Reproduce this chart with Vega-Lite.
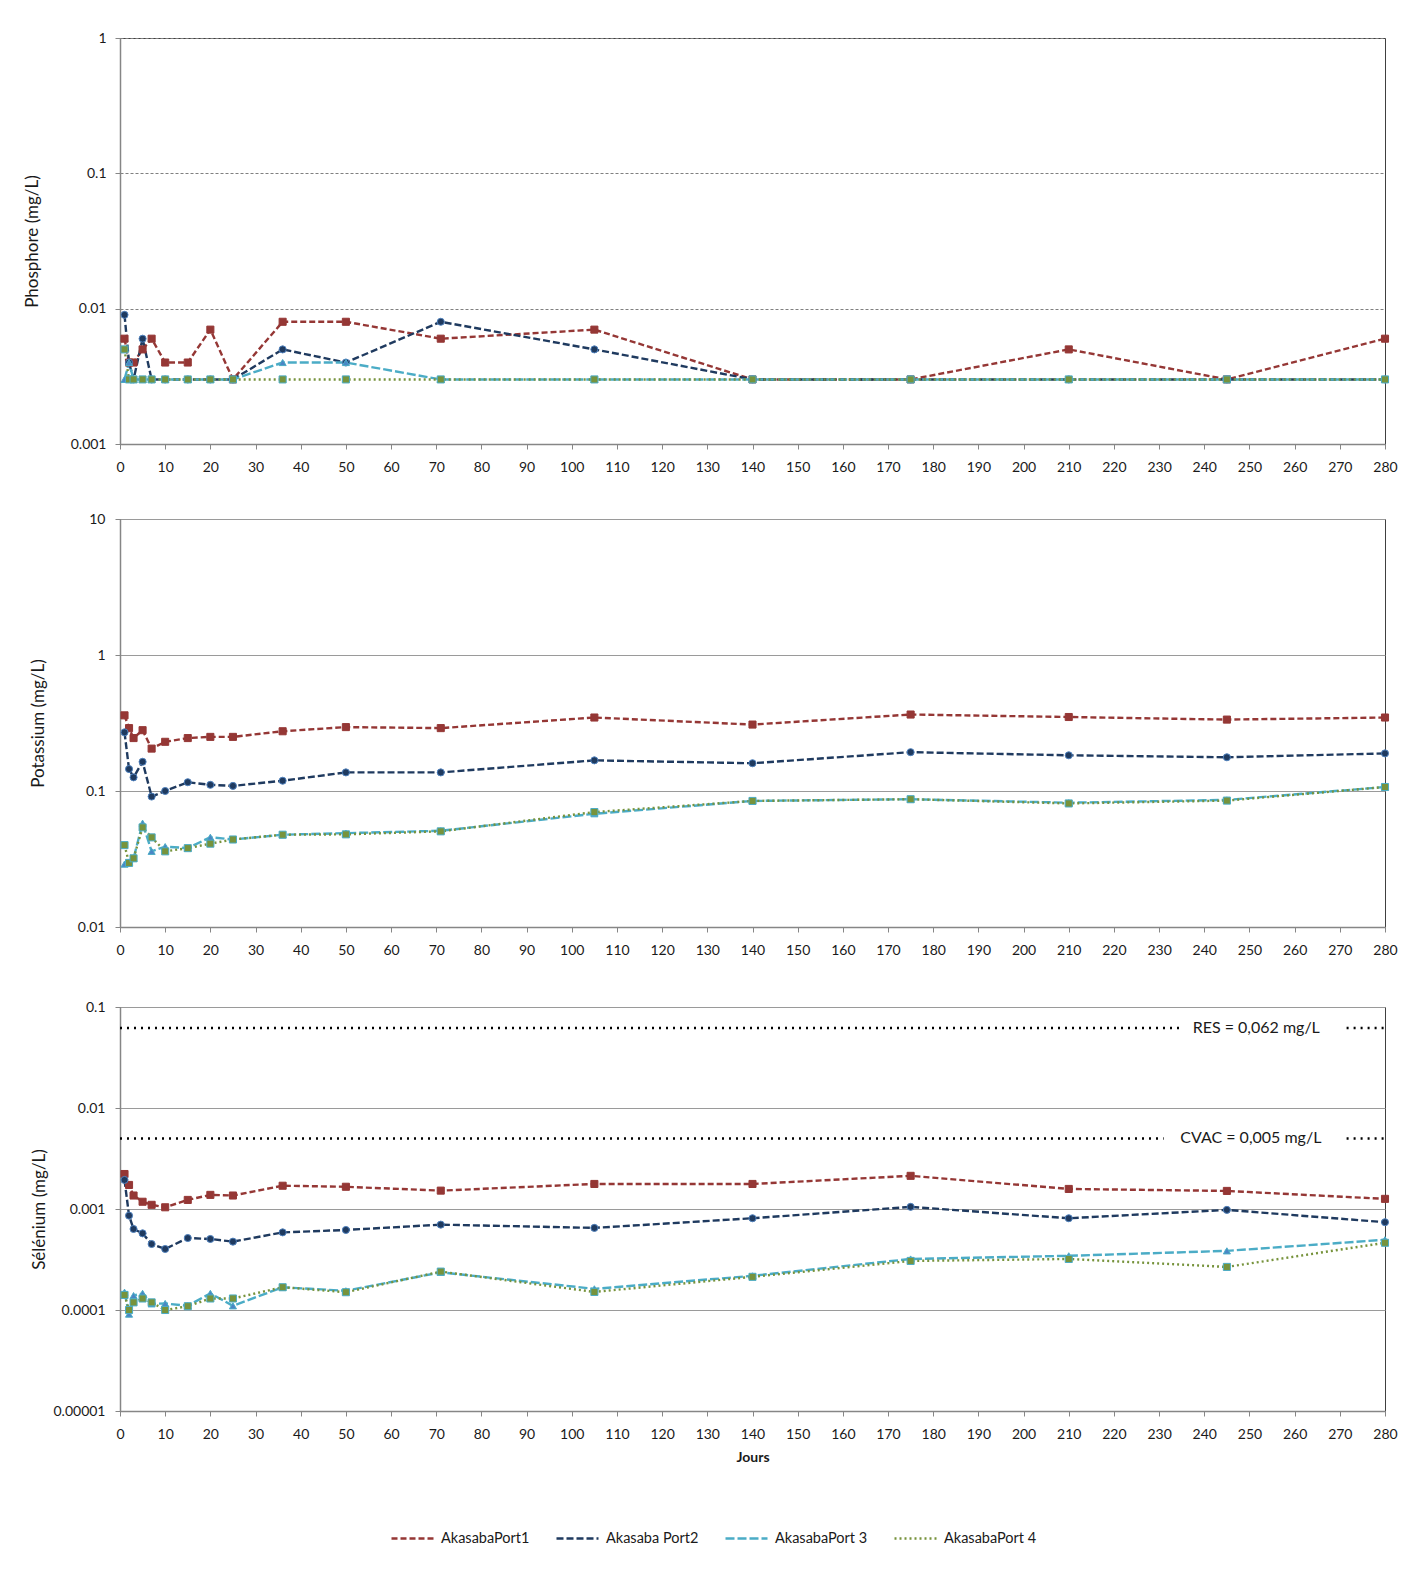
{
  "$schema": "https://vega.github.io/schema/vega-lite/v6.json",
  "background": "white",
  "padding": {"left": 22, "top": 30, "right": 10, "bottom": 10},
  "bounds": "flush",
  "spacing": 75,
  "config": {
    "font": "Lato",
    "view": {"stroke": "#404040", "strokeWidth": 1},
    "axis": {
      "labelFont": "Lato", "labelFontSize": 14, "labelColor": "#1a1a1a",
      "titleFont": "Lato", "titleColor": "#1a1a1a",
      "domainColor": "#868686", "domainWidth": 1.5, "tickColor": "#868686", "tickSize": 5, "tickWidth": 1
    },
    "legend": {"labelFont": "Lato", "labelFontSize": 14.5, "labelColor": "#1a1a1a"},
    "point": {"filled": true, "size": 50, "strokeWidth": 1, "opacity": 1}
  },
  "datasets": {
    "phos": [
      {"j": 1, "AkasabaPort1": 0.006, "Akasaba Port2": 0.009, "AkasabaPort 3": 0.003, "AkasabaPort 4": 0.005},
      {"j": 2, "AkasabaPort1": 0.004, "Akasaba Port2": 0.004, "AkasabaPort 3": 0.004, "AkasabaPort 4": 0.003},
      {"j": 3, "AkasabaPort1": 0.004, "Akasaba Port2": 0.003, "AkasabaPort 3": 0.003, "AkasabaPort 4": 0.003},
      {"j": 5, "AkasabaPort1": 0.005, "Akasaba Port2": 0.006, "AkasabaPort 3": 0.003, "AkasabaPort 4": 0.003},
      {"j": 7, "AkasabaPort1": 0.006, "Akasaba Port2": 0.003, "AkasabaPort 3": 0.003, "AkasabaPort 4": 0.003},
      {"j": 10, "AkasabaPort1": 0.004, "Akasaba Port2": 0.003, "AkasabaPort 3": 0.003, "AkasabaPort 4": 0.003},
      {"j": 15, "AkasabaPort1": 0.004, "Akasaba Port2": 0.003, "AkasabaPort 3": 0.003, "AkasabaPort 4": 0.003},
      {"j": 20, "AkasabaPort1": 0.007, "Akasaba Port2": 0.003, "AkasabaPort 3": 0.003, "AkasabaPort 4": 0.003},
      {"j": 25, "AkasabaPort1": 0.003, "Akasaba Port2": 0.003, "AkasabaPort 3": 0.003, "AkasabaPort 4": 0.003},
      {"j": 36, "AkasabaPort1": 0.008, "Akasaba Port2": 0.005, "AkasabaPort 3": 0.004, "AkasabaPort 4": 0.003},
      {"j": 50, "AkasabaPort1": 0.008, "Akasaba Port2": 0.004, "AkasabaPort 3": 0.004, "AkasabaPort 4": 0.003},
      {"j": 71, "AkasabaPort1": 0.006, "Akasaba Port2": 0.008, "AkasabaPort 3": 0.003, "AkasabaPort 4": 0.003},
      {"j": 105, "AkasabaPort1": 0.007, "Akasaba Port2": 0.005, "AkasabaPort 3": 0.003, "AkasabaPort 4": 0.003},
      {"j": 140, "AkasabaPort1": 0.003, "Akasaba Port2": 0.003, "AkasabaPort 3": 0.003, "AkasabaPort 4": 0.003},
      {"j": 175, "AkasabaPort1": 0.003, "Akasaba Port2": 0.003, "AkasabaPort 3": 0.003, "AkasabaPort 4": 0.003},
      {"j": 210, "AkasabaPort1": 0.005, "Akasaba Port2": 0.003, "AkasabaPort 3": 0.003, "AkasabaPort 4": 0.003},
      {"j": 245, "AkasabaPort1": 0.003, "Akasaba Port2": 0.003, "AkasabaPort 3": 0.003, "AkasabaPort 4": 0.003},
      {"j": 280, "AkasabaPort1": 0.006, "Akasaba Port2": 0.003, "AkasabaPort 3": 0.003, "AkasabaPort 4": 0.003}
    ],
    "pot": [
      {"j": 1, "AkasabaPort1": 0.36, "Akasaba Port2": 0.27, "AkasabaPort 3": 0.029, "AkasabaPort 4": 0.040},
      {"j": 2, "AkasabaPort1": 0.29, "Akasaba Port2": 0.145, "AkasabaPort 3": 0.030, "AkasabaPort 4": 0.0296},
      {"j": 3, "AkasabaPort1": 0.245, "Akasaba Port2": 0.126, "AkasabaPort 3": 0.032, "AkasabaPort 4": 0.032},
      {"j": 5, "AkasabaPort1": 0.28, "Akasaba Port2": 0.164, "AkasabaPort 3": 0.058, "AkasabaPort 4": 0.054},
      {"j": 7, "AkasabaPort1": 0.205, "Akasaba Port2": 0.091, "AkasabaPort 3": 0.036, "AkasabaPort 4": 0.0456},
      {"j": 10, "AkasabaPort1": 0.23, "Akasaba Port2": 0.100, "AkasabaPort 3": 0.039, "AkasabaPort 4": 0.036},
      {"j": 15, "AkasabaPort1": 0.245, "Akasaba Port2": 0.116, "AkasabaPort 3": 0.038, "AkasabaPort 4": 0.038},
      {"j": 20, "AkasabaPort1": 0.25, "Akasaba Port2": 0.111, "AkasabaPort 3": 0.0457, "AkasabaPort 4": 0.041},
      {"j": 25, "AkasabaPort1": 0.25, "Akasaba Port2": 0.109, "AkasabaPort 3": 0.044, "AkasabaPort 4": 0.044},
      {"j": 36, "AkasabaPort1": 0.275, "Akasaba Port2": 0.119, "AkasabaPort 3": 0.0477, "AkasabaPort 4": 0.0477},
      {"j": 50, "AkasabaPort1": 0.295, "Akasaba Port2": 0.137, "AkasabaPort 3": 0.049, "AkasabaPort 4": 0.048},
      {"j": 71, "AkasabaPort1": 0.29, "Akasaba Port2": 0.137, "AkasabaPort 3": 0.051, "AkasabaPort 4": 0.0505},
      {"j": 105, "AkasabaPort1": 0.347, "Akasaba Port2": 0.168, "AkasabaPort 3": 0.068, "AkasabaPort 4": 0.070},
      {"j": 140, "AkasabaPort1": 0.308, "Akasaba Port2": 0.160, "AkasabaPort 3": 0.0845, "AkasabaPort 4": 0.0845},
      {"j": 175, "AkasabaPort1": 0.365, "Akasaba Port2": 0.193, "AkasabaPort 3": 0.087, "AkasabaPort 4": 0.087},
      {"j": 210, "AkasabaPort1": 0.35, "Akasaba Port2": 0.183, "AkasabaPort 3": 0.082, "AkasabaPort 4": 0.081},
      {"j": 245, "AkasabaPort1": 0.335, "Akasaba Port2": 0.177, "AkasabaPort 3": 0.086, "AkasabaPort 4": 0.085},
      {"j": 280, "AkasabaPort1": 0.347, "Akasaba Port2": 0.189, "AkasabaPort 3": 0.107, "AkasabaPort 4": 0.107}
    ],
    "sel": [
      {"j": 1, "AkasabaPort1": 0.00222, "Akasaba Port2": 0.00194, "AkasabaPort 3": 0.00015, "AkasabaPort 4": 0.000141},
      {"j": 2, "AkasabaPort1": 0.00173, "Akasaba Port2": 0.00086, "AkasabaPort 3": 0.000091, "AkasabaPort 4": 0.0001},
      {"j": 3, "AkasabaPort1": 0.00136, "Akasaba Port2": 0.000634, "AkasabaPort 3": 0.000139, "AkasabaPort 4": 0.000119},
      {"j": 5, "AkasabaPort1": 0.00118, "Akasaba Port2": 0.000574, "AkasabaPort 3": 0.000146, "AkasabaPort 4": 0.00013},
      {"j": 7, "AkasabaPort1": 0.0011, "Akasaba Port2": 0.00045, "AkasabaPort 3": 0.000115, "AkasabaPort 4": 0.000119},
      {"j": 10, "AkasabaPort1": 0.00104, "Akasaba Port2": 0.000402, "AkasabaPort 3": 0.000116, "AkasabaPort 4": 0.0001},
      {"j": 15, "AkasabaPort1": 0.00123, "Akasaba Port2": 0.000516, "AkasabaPort 3": 0.00011, "AkasabaPort 4": 0.000109},
      {"j": 20, "AkasabaPort1": 0.00138, "Akasaba Port2": 0.000505, "AkasabaPort 3": 0.000146, "AkasabaPort 4": 0.00013},
      {"j": 25, "AkasabaPort1": 0.00136, "Akasaba Port2": 0.000475, "AkasabaPort 3": 0.00011, "AkasabaPort 4": 0.00013},
      {"j": 36, "AkasabaPort1": 0.0017, "Akasaba Port2": 0.000587, "AkasabaPort 3": 0.000168, "AkasabaPort 4": 0.000168},
      {"j": 50, "AkasabaPort1": 0.00166, "Akasaba Port2": 0.00062, "AkasabaPort 3": 0.000155, "AkasabaPort 4": 0.00015},
      {"j": 71, "AkasabaPort1": 0.00152, "Akasaba Port2": 0.0007, "AkasabaPort 3": 0.000236, "AkasabaPort 4": 0.00024},
      {"j": 105, "AkasabaPort1": 0.00177, "Akasaba Port2": 0.00065, "AkasabaPort 3": 0.000162, "AkasabaPort 4": 0.000151},
      {"j": 140, "AkasabaPort1": 0.00177, "Akasaba Port2": 0.00081, "AkasabaPort 3": 0.000218, "AkasabaPort 4": 0.000213},
      {"j": 175, "AkasabaPort1": 0.00213, "Akasaba Port2": 0.00105, "AkasabaPort 3": 0.00032, "AkasabaPort 4": 0.000306},
      {"j": 210, "AkasabaPort1": 0.00158, "Akasaba Port2": 0.00081, "AkasabaPort 3": 0.000344, "AkasabaPort 4": 0.00032},
      {"j": 245, "AkasabaPort1": 0.00151, "Akasaba Port2": 0.00098, "AkasabaPort 3": 0.000385, "AkasabaPort 4": 0.000267},
      {"j": 280, "AkasabaPort1": 0.00126, "Akasaba Port2": 0.00074, "AkasabaPort 3": 0.000496, "AkasabaPort 4": 0.000463}
    ],
    "refs": [
      {"x": 0, "x2": 235, "v": 0.062},
      {"x": 271.5, "x2": 280, "v": 0.062},
      {"x": 0, "x2": 231, "v": 0.005},
      {"x": 271.5, "x2": 280, "v": 0.005}
    ],
    "reflabels": [
      {"x": 251.5, "v": 0.062, "label": "RES = 0,062 mg/L"},
      {"x": 250.3, "v": 0.005, "label": "CVAC = 0,005 mg/L"}
    ]
  },
  "vconcat": [
    {
      "width": 1265, "height": 406,
      "data": {"name": "phos"},
      "encoding": {
        "x": {"field": "j", "type": "quantitative", "scale": {"domain": [0, 280], "nice": false, "zero": false},
              "axis": {"title": null, "values": [0,10,20,30,40,50,60,70,80,90,100,110,120,130,140,150,160,170,180,190,200,210,220,230,240,250,260,270,280], "grid": false, "labelPadding": 11, "labelFlush": false}},
        "y": {"field": "v", "type": "quantitative", "scale": {"type": "log", "domain": [0.001, 1], "nice": false},
              "axis": {"title": "Phosphore (mg/L)", "titleFontSize": 17, "titleFontWeight": "normal", "titleX": -79, "values": [0.001, 0.01, 0.1, 1], "format": ".5~f", "grid": true, "gridColor": "#808080", "gridDash": [3, 2], "gridWidth": 1, "labelPadding": 9}}
      },
      "layer": [
        {
          "transform": [{"fold": ["AkasabaPort1", "Akasaba Port2", "AkasabaPort 3", "AkasabaPort 4"], "as": ["serie", "v"]}],
          "mark": {"type": "line", "strokeWidth": 2.4},
          "encoding": {
            "color": {"field": "serie", "type": "nominal", "scale": {"domain": ["AkasabaPort1", "Akasaba Port2", "AkasabaPort 3", "AkasabaPort 4"], "range": ["#953735", "#1F3A5F", "#4BACC6", "#77933C"]},
                      "legend": {"title": null, "orient": "none", "legendX": 270, "legendY": 1478, "direction": "horizontal", "symbolType": "stroke", "symbolSize": 1764, "symbolStrokeWidth": 2.4, "labelOffset": 6, "columnPadding": 21}},
            "strokeDash": {"field": "serie", "type": "nominal", "scale": {"domain": ["AkasabaPort1", "Akasaba Port2", "AkasabaPort 3", "AkasabaPort 4"], "range": [[6, 3], [7, 3], [9, 3], [2, 3]]},
                      "legend": {"title": null, "orient": "none", "legendX": 270, "legendY": 1478, "direction": "horizontal", "symbolType": "stroke", "symbolSize": 1764, "symbolStrokeWidth": 2.4, "labelOffset": 6, "columnPadding": 21}}
          }
        },
        {"transform": [{"fold": ["AkasabaPort1"], "as": ["s", "v"]}], "mark": {"type": "point", "shape": "square", "fill": "#953735", "stroke": "#953735"}},
        {"transform": [{"fold": ["Akasaba Port2"], "as": ["s", "v"]}], "mark": {"type": "point", "shape": "circle", "fill": "#1F3A5F", "stroke": "#4F81BD"}},
        {"transform": [{"fold": ["AkasabaPort 3"], "as": ["s", "v"]}], "mark": {"type": "point", "shape": "triangle-up", "fill": "#4A86C5", "stroke": "#4BACC6"}},
        {"transform": [{"fold": ["AkasabaPort 4"], "as": ["s", "v"]}], "mark": {"type": "point", "shape": "square", "fill": "#77933C", "stroke": "#4BACC6"}}
      ]
    },
    {
      "bounds": "flush",
      "spacing": 80,
      "vconcat": [
        {
          "width": 1265, "height": 408,
          "data": {"name": "pot"},
          "encoding": {
            "x": {"field": "j", "type": "quantitative", "scale": {"domain": [0, 280], "nice": false, "zero": false},
                  "axis": {"title": null, "values": [0,10,20,30,40,50,60,70,80,90,100,110,120,130,140,150,160,170,180,190,200,210,220,230,240,250,260,270,280], "grid": false, "labelPadding": 11, "labelFlush": false}},
            "y": {"field": "v", "type": "quantitative", "scale": {"type": "log", "domain": [0.01, 10], "nice": false},
                  "axis": {"title": "Potassium (mg/L)", "titleFontSize": 17, "titleFontWeight": "normal", "titleX": -73, "values": [0.01, 0.1, 1, 10], "format": ".5~f", "grid": true, "gridColor": "#9a9a9a", "gridWidth": 1, "labelPadding": 10}}
          },
          "layer": [
            {
              "transform": [{"fold": ["AkasabaPort1", "Akasaba Port2", "AkasabaPort 3", "AkasabaPort 4"], "as": ["serie", "v"]}],
              "mark": {"type": "line", "strokeWidth": 2.4},
              "encoding": {
                "color": {"field": "serie", "type": "nominal", "scale": {"domain": ["AkasabaPort1", "Akasaba Port2", "AkasabaPort 3", "AkasabaPort 4"], "range": ["#953735", "#1F3A5F", "#4BACC6", "#77933C"]},
                          "legend": {"title": null, "orient": "none", "legendX": 270, "legendY": 1478, "direction": "horizontal", "symbolType": "stroke", "symbolSize": 1764, "symbolStrokeWidth": 2.4, "labelOffset": 6, "columnPadding": 21}},
                "strokeDash": {"field": "serie", "type": "nominal", "scale": {"domain": ["AkasabaPort1", "Akasaba Port2", "AkasabaPort 3", "AkasabaPort 4"], "range": [[6, 3], [7, 3], [9, 3], [2, 3]]},
                          "legend": {"title": null, "orient": "none", "legendX": 270, "legendY": 1478, "direction": "horizontal", "symbolType": "stroke", "symbolSize": 1764, "symbolStrokeWidth": 2.4, "labelOffset": 6, "columnPadding": 21}}
              }
            },
            {"transform": [{"fold": ["AkasabaPort1"], "as": ["s", "v"]}], "mark": {"type": "point", "shape": "square", "fill": "#953735", "stroke": "#953735"}},
            {"transform": [{"fold": ["Akasaba Port2"], "as": ["s", "v"]}], "mark": {"type": "point", "shape": "circle", "fill": "#1F3A5F", "stroke": "#4F81BD"}},
            {"transform": [{"fold": ["AkasabaPort 3"], "as": ["s", "v"]}], "mark": {"type": "point", "shape": "triangle-up", "fill": "#4A86C5", "stroke": "#4BACC6"}},
            {"transform": [{"fold": ["AkasabaPort 4"], "as": ["s", "v"]}], "mark": {"type": "point", "shape": "square", "fill": "#77933C", "stroke": "#4BACC6"}}
          ]
        },
        {
          "width": 1265, "height": 404,
          "encoding": {
            "x": {"field": "j", "type": "quantitative", "scale": {"domain": [0, 280], "nice": false, "zero": false},
                  "axis": {"title": "Jours", "titleFontSize": 14, "titleFontWeight": "bold", "titlePadding": 9, "values": [0,10,20,30,40,50,60,70,80,90,100,110,120,130,140,150,160,170,180,190,200,210,220,230,240,250,260,270,280], "grid": false, "labelPadding": 11, "labelFlush": false}},
            "y": {"field": "v", "type": "quantitative", "scale": {"type": "log", "domain": [0.00001, 0.1], "nice": false},
                  "axis": {"title": "Sélénium (mg/L)", "titleFontSize": 17, "titleFontWeight": "normal", "titleX": -72, "values": [0.00001, 0.0001, 0.001, 0.01, 0.1], "format": ".5~f", "grid": true, "gridColor": "#9a9a9a", "gridWidth": 1, "labelPadding": 10}}
          },
          "layer": [
            {
              "data": {"name": "refs"},
              "mark": {"type": "rule", "color": "#000000", "strokeWidth": 2.5, "strokeDash": [2, 5]},
              "encoding": {
                "x": {"field": "x", "type": "quantitative"},
                "x2": {"field": "x2"},
                "y": {"field": "v", "type": "quantitative"}
              }
            },
            {
              "data": {"name": "reflabels"},
              "mark": {"type": "text", "fontSize": 16, "font": "Lato", "color": "#1a1a1a", "align": "center", "baseline": "middle"},
              "encoding": {
                "x": {"field": "x", "type": "quantitative"},
                "y": {"field": "v", "type": "quantitative"},
                "text": {"field": "label"}
              }
            },
            {
              "data": {"name": "sel"},
              "transform": [{"fold": ["AkasabaPort1", "Akasaba Port2", "AkasabaPort 3", "AkasabaPort 4"], "as": ["serie", "v"]}],
              "mark": {"type": "line", "strokeWidth": 2.4},
              "encoding": {
                "color": {"field": "serie", "type": "nominal", "scale": {"domain": ["AkasabaPort1", "Akasaba Port2", "AkasabaPort 3", "AkasabaPort 4"], "range": ["#953735", "#1F3A5F", "#4BACC6", "#77933C"]},
                          "legend": {"title": null, "orient": "none", "legendX": 270, "legendY": 1478, "direction": "horizontal", "symbolType": "stroke", "symbolSize": 1764, "symbolStrokeWidth": 2.4, "labelOffset": 6, "columnPadding": 21}},
                "strokeDash": {"field": "serie", "type": "nominal", "scale": {"domain": ["AkasabaPort1", "Akasaba Port2", "AkasabaPort 3", "AkasabaPort 4"], "range": [[6, 3], [7, 3], [9, 3], [2, 3]]},
                          "legend": {"title": null, "orient": "none", "legendX": 270, "legendY": 1478, "direction": "horizontal", "symbolType": "stroke", "symbolSize": 1764, "symbolStrokeWidth": 2.4, "labelOffset": 6, "columnPadding": 21}}
              }
            },
            {"data": {"name": "sel"}, "transform": [{"fold": ["AkasabaPort1"], "as": ["s", "v"]}], "mark": {"type": "point", "shape": "square", "fill": "#953735", "stroke": "#953735"}},
            {"data": {"name": "sel"}, "transform": [{"fold": ["Akasaba Port2"], "as": ["s", "v"]}], "mark": {"type": "point", "shape": "circle", "fill": "#1F3A5F", "stroke": "#4F81BD"}},
            {"data": {"name": "sel"}, "transform": [{"fold": ["AkasabaPort 3"], "as": ["s", "v"]}], "mark": {"type": "point", "shape": "triangle-up", "fill": "#4A86C5", "stroke": "#4BACC6"}},
            {"data": {"name": "sel"}, "transform": [{"fold": ["AkasabaPort 4"], "as": ["s", "v"]}], "mark": {"type": "point", "shape": "square", "fill": "#77933C", "stroke": "#4BACC6"}}
          ]
        }
      ]
    }
  ]
}
